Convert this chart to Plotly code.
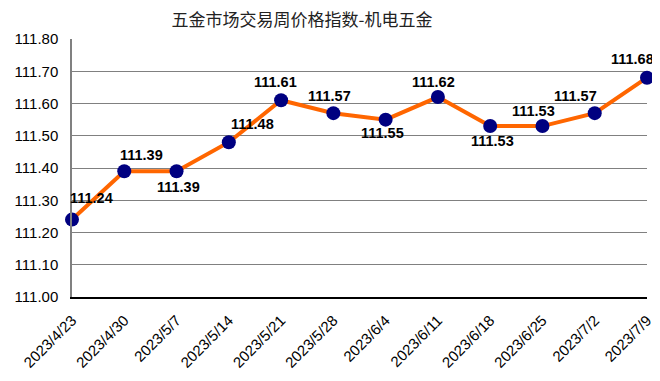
import plotly.graph_objects as go

dates = ["2023/4/23", "2023/4/30", "2023/5/7", "2023/5/14", "2023/5/21", "2023/5/28",
         "2023/6/4", "2023/6/11", "2023/6/18", "2023/6/25", "2023/7/2", "2023/7/9"]
values = [111.24, 111.39, 111.39, 111.48, 111.61, 111.57,
          111.55, 111.62, 111.53, 111.53, 111.57, 111.68]
y_ticks = [111.00, 111.10, 111.20, 111.30, 111.40, 111.50, 111.60, 111.70, 111.80]

# label offsets in pixels (style only)
label_dx = [19, 17, 2, 24, -6, -4, -3, -4, 2, -9, -19, -15]
label_dy = [-22, -16, 16, -18, -18, -17, 13, -15, 15, -15, -17, -19]

# page body has an 8px default margin; figure sized to fill the rest
W, H = 652, 373

fig = go.Figure()
fig.add_trace(go.Scatter(
    x=dates, y=values, mode="lines+markers",
    line=dict(color="#FF6600", width=4),
    marker=dict(color="#000080", size=14),
    cliponaxis=False, hoverinfo="x+y",
))

for d, v, dx, dy in zip(dates, values, label_dx, label_dy):
    fig.add_annotation(
        x=d, y=v, text=f"<b>{v:.2f}</b>", showarrow=False,
        xshift=dx, yshift=-dy,
        font=dict(family="Liberation Sans, Arial", size=14.5, color="#000000"),
    )

fig.update_layout(
    width=W, height=H,
    margin=dict(l=64, r=13, t=31, b=84, autoexpand=False),
    paper_bgcolor="white", plot_bgcolor="white",
    showlegend=False,
    title=dict(text="五金市场交易周价格指数-机电五金", x=294 / W, xanchor="center",
               y=1 - 6 / H, yanchor="top", pad=dict(t=0, b=0),
               font=dict(family="Noto Sans CJK SC", size=17, color="#222222")),
)
fig.update_xaxes(
    type="category", range=[0, 11], tickangle=-45, automargin=False,
    tickfont=dict(family="Liberation Sans, Arial", size=15, color="#000000"),
    showgrid=False, showline=True, linecolor="#000000", linewidth=1.5,
    ticks="", zeroline=False, ticklabelstandoff=7,
)
fig.update_yaxes(
    range=[111.0, 111.8], tickvals=y_ticks, ticktext=[f"{t:.2f}" for t in y_ticks],
    tickfont=dict(family="Liberation Sans, Arial", size=15, color="#000000"),
    showgrid=True, gridcolor="#808080", gridwidth=1, automargin=False,
    showline=True, linecolor="#808080", linewidth=1.5,
    ticks="", ticklen=0, zeroline=False, ticklabelstandoff=9,
)

fig.write_html("out.html")
